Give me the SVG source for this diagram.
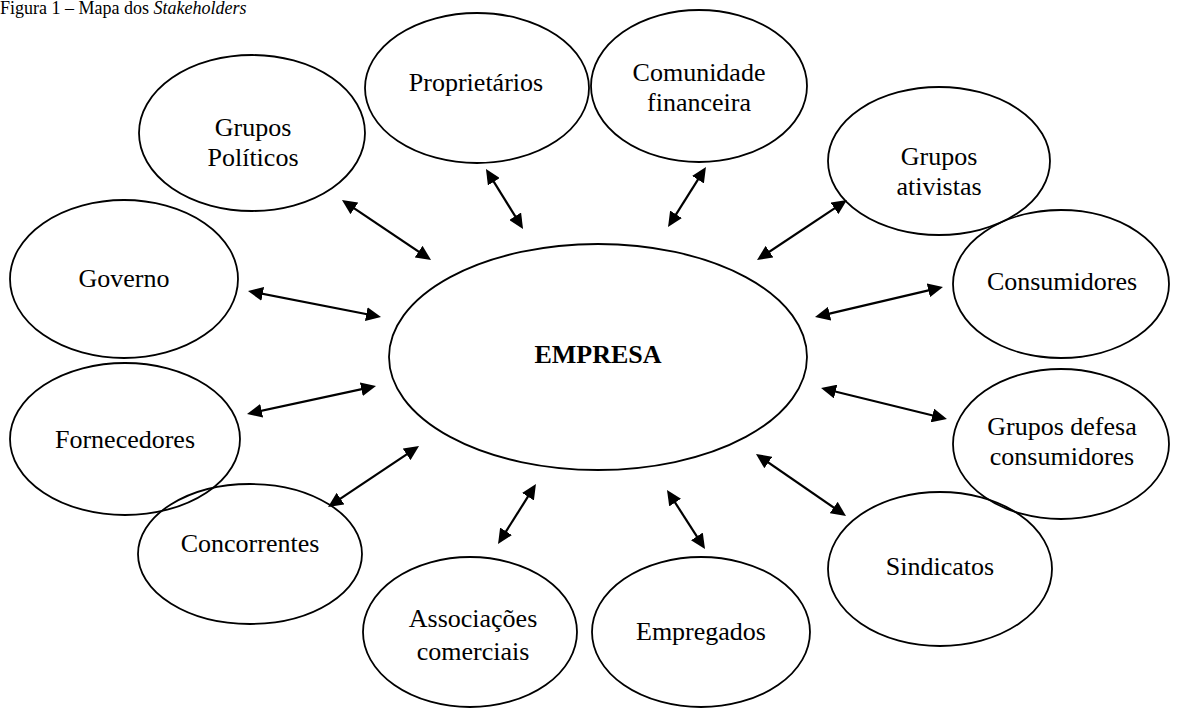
<svg xmlns="http://www.w3.org/2000/svg" width="1178" height="709" viewBox="0 0 1178 709">
  <style>
    .node ellipse { fill: none; stroke: #000000; stroke-width: 1.8; }
    .node text { font-family: "Liberation Serif", "Times New Roman", serif; font-size: 26px; fill: #000000; text-anchor: middle; }
    .title { font-family: "Liberation Serif", "Times New Roman", serif; font-size: 18px; fill: #000000; }
    .link { stroke: #000000; stroke-width: 2.2; fill: none; marker-start: url(#head); marker-end: url(#head); }
  </style>
  <defs>
    <!-- filled arrowhead; tip sits 5px beyond the line end -->
    <marker id="head" viewBox="0 0 15 14" refX="10" refY="7" markerWidth="15" markerHeight="14" markerUnits="userSpaceOnUse" orient="auto-start-reverse">
      <path d="M0,0 L15,7 L0,14 Z" fill="#000000"/>
    </marker>
  </defs>

  <rect width="1178" height="709" fill="#ffffff"/>

  <text class="title" x="0" y="14">Figura 1 – Mapa dos <tspan font-style="italic">Stakeholders</tspan></text>

  <!-- two-way links between the company and each stakeholder -->
  <g id="connectors">
    <line class="link" x1="346.1" y1="202.8" x2="426.9" y2="257.2"/>
    <line class="link" x1="488.6" y1="173.3" x2="520.4" y2="224.7"/>
    <line class="link" x1="703.3" y1="171.2" x2="670.7" y2="222.8"/>
    <line class="link" x1="842.8" y1="202.8" x2="761.2" y2="257.2"/>
    <line class="link" x1="252.9" y1="292.0" x2="376.1" y2="316.0"/>
    <line class="link" x1="251.9" y1="412.9" x2="371.1" y2="387.1"/>
    <line class="link" x1="938.1" y1="288.1" x2="819.9" y2="315.9"/>
    <line class="link" x1="825.9" y1="389.2" x2="942.1" y2="417.8"/>
    <line class="link" x1="414.9" y1="448.8" x2="332.2" y2="504.2"/>
    <line class="link" x1="533.3" y1="488.2" x2="500.7" y2="539.8"/>
    <line class="link" x1="669.7" y1="494.2" x2="702.3" y2="544.8"/>
    <line class="link" x1="760.1" y1="456.8" x2="841.9" y2="513.2"/>
  </g>

  <g id="empresa" class="node">
    <ellipse cx="598" cy="357" rx="209" ry="113"/>
    <text x="598" y="363" font-weight="bold">EMPRESA</text>
  </g>

  <g id="proprietarios" class="node">
    <ellipse cx="477" cy="88" rx="112" ry="75"/>
    <text x="476" y="91">Proprietários</text>
  </g>

  <g id="comunidade-financeira" class="node">
    <ellipse cx="699" cy="86" rx="108" ry="76"/>
    <text x="699" y="81">Comunidade</text>
    <text x="699" y="111">financeira</text>
  </g>

  <g id="grupos-politicos" class="node">
    <ellipse cx="252" cy="133" rx="113" ry="78"/>
    <text x="253" y="136">Grupos</text>
    <text x="253" y="166">Políticos</text>
  </g>

  <g id="grupos-ativistas" class="node">
    <ellipse cx="939" cy="161" rx="111" ry="74"/>
    <text x="939" y="165">Grupos</text>
    <text x="939" y="195">ativistas</text>
  </g>

  <g id="governo" class="node">
    <ellipse cx="124" cy="279" rx="114" ry="79"/>
    <text x="124" y="287">Governo</text>
  </g>

  <g id="consumidores" class="node">
    <ellipse cx="1061" cy="284" rx="108" ry="74"/>
    <text x="1062" y="290">Consumidores</text>
  </g>

  <g id="fornecedores" class="node">
    <ellipse cx="125" cy="439" rx="115" ry="76"/>
    <text x="125" y="448">Fornecedores</text>
  </g>

  <g id="grupos-defesa-consumidores" class="node">
    <ellipse cx="1061" cy="444" rx="108" ry="75"/>
    <text x="1062" y="435">Grupos defesa</text>
    <text x="1062" y="465">consumidores</text>
  </g>

  <g id="concorrentes" class="node">
    <ellipse cx="250" cy="554" rx="112" ry="70"/>
    <text x="250" y="552">Concorrentes</text>
  </g>

  <g id="associacoes-comerciais" class="node">
    <ellipse cx="470" cy="632" rx="107" ry="75"/>
    <text x="473" y="627">Associações</text>
    <text x="473" y="660">comerciais</text>
  </g>

  <g id="empregados" class="node">
    <ellipse cx="701" cy="632" rx="109" ry="75"/>
    <text x="701" y="640">Empregados</text>
  </g>

  <g id="sindicatos" class="node">
    <ellipse cx="940" cy="569" rx="112" ry="77"/>
    <text x="940" y="575">Sindicatos</text>
  </g>
</svg>
